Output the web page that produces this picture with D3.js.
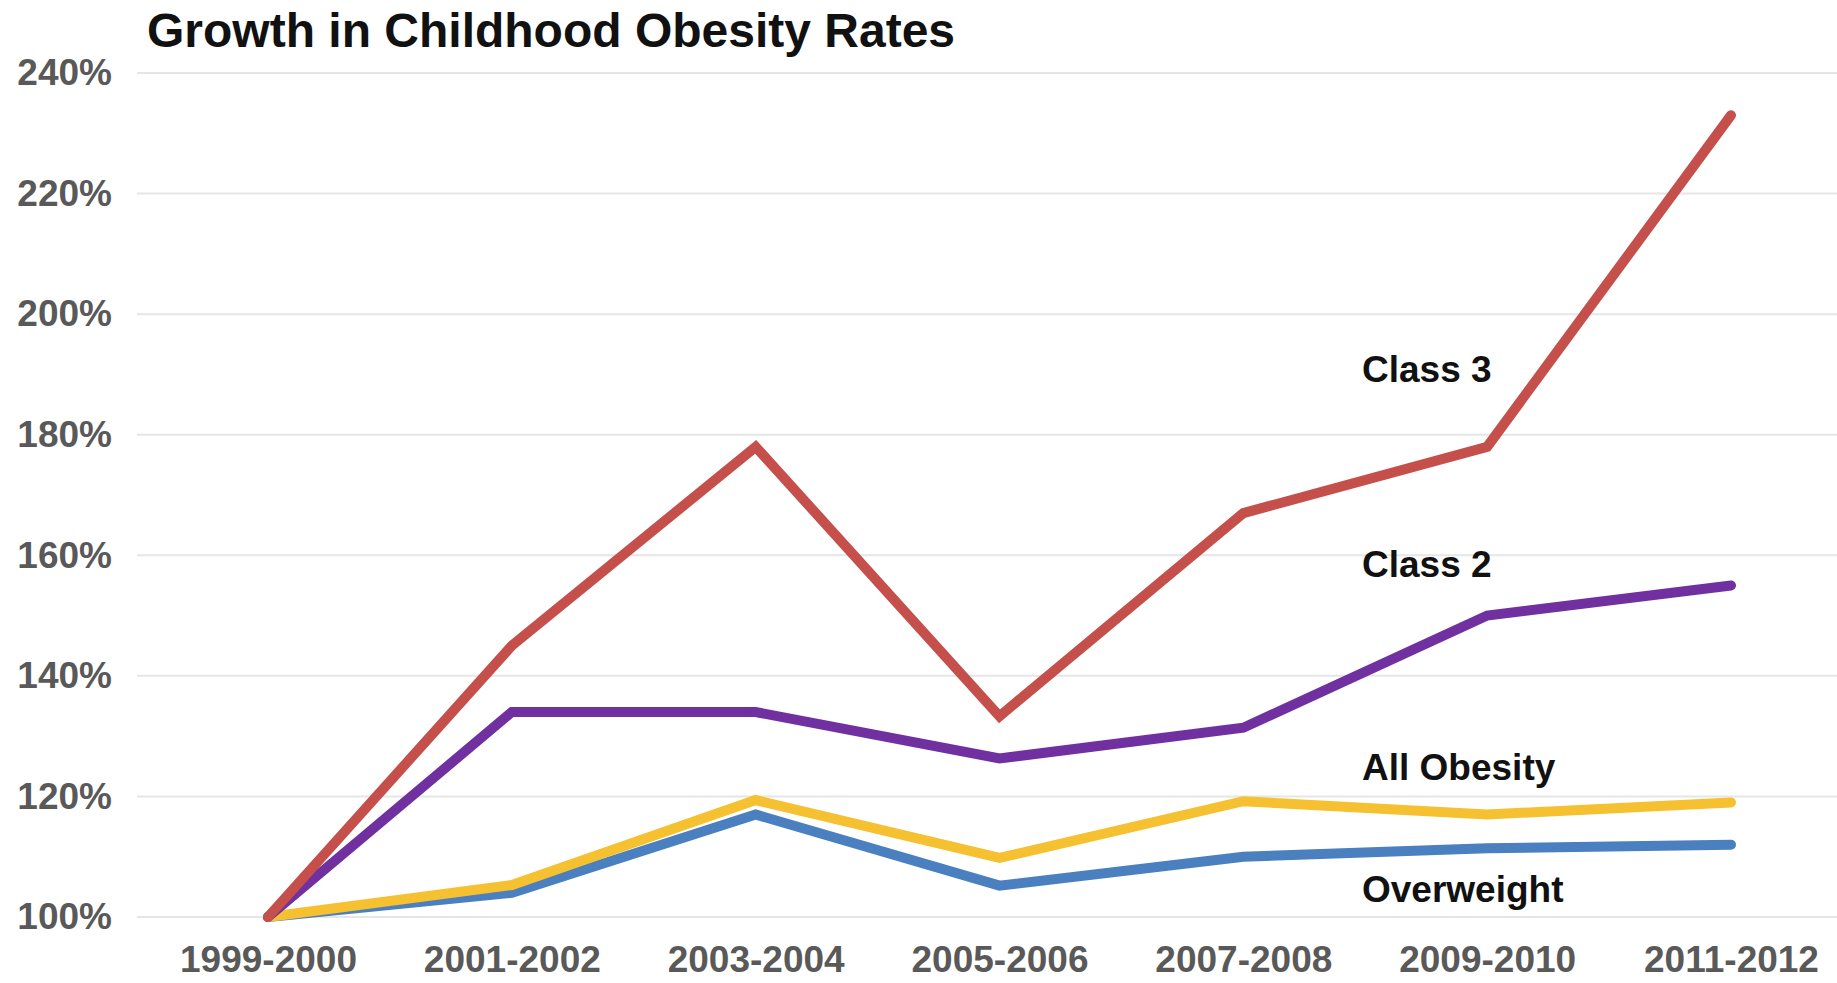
<!DOCTYPE html>
<html>
<head>
<meta charset="utf-8">
<script src="https://cdn.jsdelivr.net/npm/d3@7"></script>
<style>
  html, body { margin: 0; padding: 0; background: #fff; }
  svg { display: block; font-family: "Liberation Sans", Arial, sans-serif; }
</style>
</head>
<body>
<svg id="chart" width="1837" height="983"></svg>
<script>
// data (index, 1999-2000 = 100%)
const periods = ["1999-2000", "2001-2002", "2003-2004", "2005-2006", "2007-2008", "2009-2010", "2011-2012"];
const overweight = [100, 104, 117, 105.2, 110, 111.4, 112];
const allObesity = [100, 105.3, 119.4, 109.8, 119.2, 117, 119];
const class2 = [100, 134, 134, 126.3, 131.4, 150, 155];
const class3 = [100, 145, 178, 133.3, 167, 178, 233];
const yTicks = [100, 120, 140, 160, 180, 200, 220, 240];

const series = [
    {name: "Overweight", values: overweight, color: "#4a7fc0", labelY: 902},
    {name: "All Obesity", values: allObesity, color: "#f5c131", labelY: 780},
    {name: "Class 2", values: class2, color: "#7030a0", labelY: 577},
    {name: "Class 3", values: class3, color: "#c5504b", labelY: 382}
];

const svg = d3.select("#chart");
const W = 1837;
const gridLeft = 137;

const x = d3.scalePoint().domain(periods).range([268, 1731]);
const y = d3.scaleLinear().domain([100, 240]).range([917, 73]);

// title
svg.append("text")
    .attr("x", 147).attr("y", 47)
    .attr("font-size", 48).attr("font-weight", "bold").attr("fill", "#111")
    .text("Growth in Childhood Obesity Rates");

// grid
svg.append("g").selectAll("line").data(yTicks).join("line")
    .attr("x1", gridLeft).attr("x2", W)
    .attr("y1", d => y(d)).attr("y2", d => y(d))
    .attr("stroke", "#e6e6e6").attr("stroke-width", 2);

// y axis
const yAxis = svg.append("g").attr("transform", `translate(${gridLeft},0)`)
    .call(d3.axisLeft(y).tickValues(yTicks).tickSize(0).tickPadding(25).tickFormat(d => d + "%"));
yAxis.select(".domain").remove();
yAxis.selectAll("text").attr("font-size", 37).attr("font-weight", "bold").attr("fill", "#595959")
    .attr("font-family", "Liberation Sans, Arial, sans-serif");

// x axis
const xAxis = svg.append("g").attr("transform", `translate(0,${y(100)})`)
    .call(d3.axisBottom(x).tickSize(0).tickPadding(29));
xAxis.select(".domain").remove();
xAxis.selectAll("text").attr("font-size", 37).attr("font-weight", "bold").attr("fill", "#595959")
    .attr("font-family", "Liberation Sans, Arial, sans-serif");

// lines
const line = d3.line().x((d, i) => x(periods[i])).y(d => y(d));

svg.append("g").selectAll("path").data(series).join("path")
    .attr("fill", "none")
    .attr("stroke", d => d.color)
    .attr("stroke-width", 10)
    .attr("stroke-linecap", "round")
    .attr("stroke-linejoin", "miter")
    .attr("d", d => line(d.values));

// series labels
svg.append("g").selectAll("text").data(series).join("text")
    .attr("x", 1362).attr("y", d => d.labelY)
    .attr("font-size", 37).attr("font-weight", "bold").attr("fill", "#111")
    .text(d => d.name);
</script>
</body>
</html>
